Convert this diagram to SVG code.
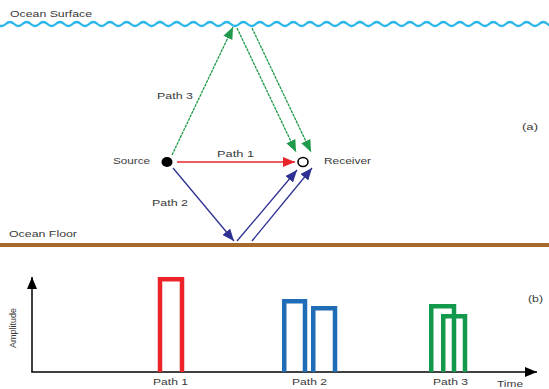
<svg xmlns="http://www.w3.org/2000/svg" width="549" height="389" viewBox="0 0 549 389">
<style>
text{font-family:"Liberation Sans",Arial,sans-serif;font-size:9.5px;fill:#3a3a3a}
.g{stroke:#1f9a4a;stroke-width:1.3;fill:none;stroke-dasharray:3 0.8}
.b{stroke:#2e3192;stroke-width:1.3;fill:none}
.r{stroke:#e8232a;stroke-width:1.3;fill:none}
.ax{stroke:#000;stroke-width:1.5;fill:none}
.pulse{fill:none;stroke-width:4.5;stroke-linejoin:miter}
</style>
<defs>
<marker id="aG" markerUnits="userSpaceOnUse" markerWidth="12" markerHeight="10" refX="12" refY="5" orient="auto"><path d="M0,0 L12,5 L0,10 z" fill="#1f9a4a"/></marker>
<marker id="aB" markerUnits="userSpaceOnUse" markerWidth="12" markerHeight="10" refX="12" refY="5" orient="auto"><path d="M0,0 L12,5 L0,10 z" fill="#2e3192"/></marker>
<marker id="aR" markerUnits="userSpaceOnUse" markerWidth="12" markerHeight="10" refX="12" refY="5" orient="auto"><path d="M0,0 L12,5 L0,10 z" fill="#e8232a"/></marker>
<marker id="aK" markerUnits="userSpaceOnUse" markerWidth="12" markerHeight="10" refX="12" refY="5" orient="auto"><path d="M0,0 L12,5 L0,10 z" fill="#000"/></marker>
</defs>
<rect width="549" height="389" fill="#fff"/>
<g id="ocean-surface">
<path d="M-10.83,24 Q-6.67,20 -2.5,24 t8.333,0 t8.333,0 t8.333,0 t8.333,0 t8.333,0 t8.333,0 t8.333,0 t8.333,0 t8.333,0 t8.333,0 t8.333,0 t8.333,0 t8.333,0 t8.333,0 t8.333,0 t8.333,0 t8.333,0 t8.333,0 t8.333,0 t8.333,0 t8.333,0 t8.333,0 t8.333,0 t8.333,0 t8.333,0 t8.333,0 t8.333,0 t8.333,0 t8.333,0 t8.333,0 t8.333,0 t8.333,0 t8.333,0 t8.333,0 t8.333,0 t8.333,0 t8.333,0 t8.333,0 t8.333,0 t8.333,0 t8.333,0 t8.333,0 t8.333,0 t8.333,0 t8.333,0 t8.333,0 t8.333,0 t8.333,0 t8.333,0 t8.333,0 t8.333,0 t8.333,0 t8.333,0 t8.333,0 t8.333,0 t8.333,0 t8.333,0 t8.333,0 t8.333,0 t8.333,0 t8.333,0 t8.333,0 t8.333,0 t8.333,0 t8.333,0 t8.333,0 t8.333,0 t8.333,0" fill="none" stroke="#2bb6ea" stroke-width="2.2"/>
<text x="10" y="17" textLength="82" lengthAdjust="spacingAndGlyphs">Ocean Surface</text>
</g>
<g id="ocean-floor">
<rect x="0" y="243" width="549" height="4" fill="#a5692a"/>
<text x="9" y="237" textLength="68" lengthAdjust="spacingAndGlyphs">Ocean Floor</text>
</g>
<g id="source">
<ellipse cx="167" cy="162" rx="5.5" ry="5" fill="#000"/>
<text x="113" y="164" textLength="37" lengthAdjust="spacingAndGlyphs">Source</text>
</g>
<g id="receiver">
<ellipse cx="303" cy="162" rx="5" ry="4.5" fill="#fff" stroke="#000" stroke-width="1.6"/>
<text x="324" y="164" textLength="47" lengthAdjust="spacingAndGlyphs">Receiver</text>
</g>
<g id="connectors">
<line class="g" x1="172" y1="155" x2="233" y2="27" marker-end="url(#aG)"/>
<line class="g" x1="237" y1="28" x2="296" y2="152" marker-end="url(#aG)"/>
<line class="g" x1="252" y1="28" x2="311" y2="152" marker-end="url(#aG)"/>
<line class="r" x1="177" y1="162" x2="295" y2="162" marker-end="url(#aR)"/>
<line class="b" x1="173" y1="168" x2="234" y2="241" marker-end="url(#aB)"/>
<line class="b" x1="237" y1="241" x2="297" y2="170" marker-end="url(#aB)"/>
<line class="b" x1="252" y1="241" x2="312" y2="168" marker-end="url(#aB)"/>
</g>
<g id="path-labels">
<text x="157" y="99" textLength="36" lengthAdjust="spacingAndGlyphs">Path 3</text>
<text x="217" y="157" textLength="37" lengthAdjust="spacingAndGlyphs">Path 1</text>
<text x="152" y="206" textLength="36" lengthAdjust="spacingAndGlyphs">Path 2</text>
<text x="522" y="130" textLength="16" lengthAdjust="spacingAndGlyphs">(a)</text>
</g>
<g id="axes">
<line class="ax" x1="32" y1="372" x2="32" y2="277" marker-end="url(#aK)"/>
<line class="ax" x1="31.25" y1="372" x2="537" y2="372" marker-end="url(#aK)"/>
<text transform="translate(16,328) rotate(-90)" text-anchor="middle" style="font-size:9px">Amplitude</text>
<text x="497" y="387" textLength="26" lengthAdjust="spacingAndGlyphs">Time</text>
<text x="528" y="302" textLength="15" lengthAdjust="spacingAndGlyphs">(b)</text>
</g>
<g id="pulse-path1">
<path class="pulse" stroke="#ec2329" d="M160,372 V279.25 H182 V372"/>
<text x="153" y="385" textLength="35" lengthAdjust="spacingAndGlyphs">Path 1</text>
</g>
<g id="pulse-path2">
<path class="pulse" stroke="#1f6db6" d="M284.25,372 V301.25 H305 V372"/>
<path class="pulse" stroke="#1f6db6" d="M313.25,372 V308.25 H335 V372"/>
<text x="292" y="385" textLength="35" lengthAdjust="spacingAndGlyphs">Path 2</text>
</g>
<g id="pulse-path3">
<path class="pulse" stroke="#13994b" d="M431.25,372 V306.25 H454 V372"/>
<path class="pulse" stroke="#13994b" d="M443.25,372 V316.25 H465 V372"/>
<text x="433" y="385" textLength="35" lengthAdjust="spacingAndGlyphs">Path 3</text>
</g>
</svg>
